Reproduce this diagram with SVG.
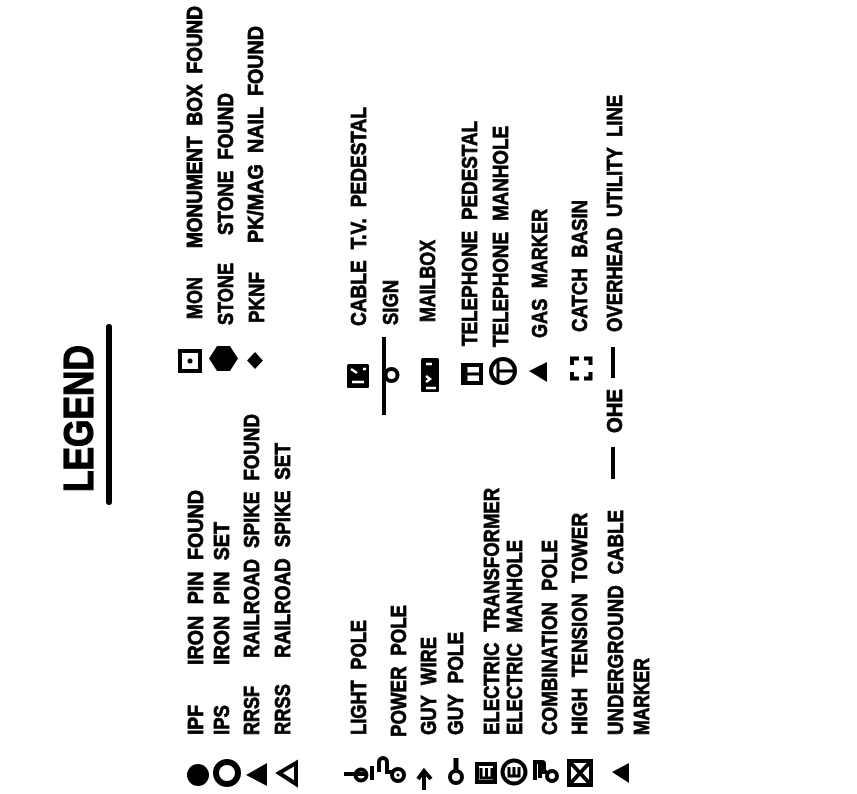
<svg xmlns="http://www.w3.org/2000/svg" width="857" height="794" viewBox="0 0 857 794">
<style>
text{font-family:"Liberation Sans",Arial,sans-serif;font-weight:700;font-size:22px;word-spacing:.3em;fill:#000;stroke:#000;stroke-width:.8px}
.s{fill:none;stroke:#000;stroke-width:4}
.k{fill:#000;stroke:none}
.w{fill:none;stroke:#fff;stroke-width:2.5}
</style>
<defs><filter id="soft" x="0" y="0" width="100%" height="100%"><feGaussianBlur stdDeviation="0.5"/></filter></defs>
<rect width="857" height="794" fill="#fff"/>
<g filter="url(#soft)">
<g id="title">
<text transform="translate(93,492) rotate(-90)" textLength="147" lengthAdjust="spacingAndGlyphs" style="font-size:42px;stroke-width:1.2px">LEGEND</text>
<path d="M109,327V502" fill="none" stroke="#000" stroke-width="6" stroke-linecap="round"/>
</g>
<g id="ipf"><circle class="k" cx="198" cy="775" r="11"/>
<text transform="translate(203,735) rotate(-90)" textLength="30" lengthAdjust="spacingAndGlyphs">IPF</text>
<text transform="translate(203,665) rotate(-90)" textLength="175" lengthAdjust="spacingAndGlyphs">IRON PIN FOUND</text></g>
<g id="ips"><circle class="s" cx="227" cy="773" r="11" style="stroke-width:6"/>
<text transform="translate(229,735) rotate(-90)" textLength="30" lengthAdjust="spacingAndGlyphs">IPS</text>
<text transform="translate(229,665) rotate(-90)" textLength="143" lengthAdjust="spacingAndGlyphs">IRON PIN SET</text></g>
<g id="rrsf"><polygon class="k" points="246,775 267,763 267,786"/>
<text transform="translate(259,735) rotate(-90)" textLength="49" lengthAdjust="spacingAndGlyphs">RRSF</text>
<text transform="translate(259,658) rotate(-90)" textLength="244" lengthAdjust="spacingAndGlyphs">RAILROAD SPIKE FOUND</text></g>
<g id="rrss"><polygon class="s" points="279,773 296,763 296,784"/>
<text transform="translate(290,735) rotate(-90)" textLength="51" lengthAdjust="spacingAndGlyphs">RRSS</text>
<text transform="translate(290,658) rotate(-90)" textLength="215" lengthAdjust="spacingAndGlyphs">RAILROAD SPIKE SET</text></g>
<g id="mon"><rect class="s" x="180" y="351" width="20" height="20"/><circle class="k" cx="190" cy="361" r="2.5"/>
<text transform="translate(202,319) rotate(-90)" textLength="42" lengthAdjust="spacingAndGlyphs">MON</text>
<text transform="translate(202,248) rotate(-90) scale(1,1.16)" textLength="242" lengthAdjust="spacingAndGlyphs" style="font-size:19px">MONUMENT BOX FOUND</text></g>
<g id="stone"><polygon class="k" points="209,358.500 217,346 230,346 238,358.500 230,371 217,371"/>
<text transform="translate(233,325) rotate(-90)" textLength="62" lengthAdjust="spacingAndGlyphs">STONE</text>
<text transform="translate(233,235) rotate(-90)" textLength="142" lengthAdjust="spacingAndGlyphs">STONE FOUND</text></g>
<g id="pknf"><polygon class="k" points="247,360.500 255,352 263,360.500 255,369"/>
<text transform="translate(264,323) rotate(-90)" textLength="51" lengthAdjust="spacingAndGlyphs">PKNF</text>
<text transform="translate(263,243) rotate(-90)" textLength="217" lengthAdjust="spacingAndGlyphs">PK/MAG NAIL FOUND</text></g>
<g id="light-pole"><path class="s" d="M344,774H367M372,766V780"/><circle class="s" cx="361" cy="775" r="5.500"/>
<text transform="translate(366,735) rotate(-90)" textLength="115" lengthAdjust="spacingAndGlyphs">LIGHT POLE</text></g>
<g id="power-pole"><path class="s" d="M379,772V762a4,4 0 0 1 8,0V772H392"/><circle class="s" cx="398" cy="775" r="6"/><circle class="k" cx="398" cy="775" r="1.500"/>
<text transform="translate(406,737) rotate(-90)" textLength="132" lengthAdjust="spacingAndGlyphs">POWER POLE</text></g>
<g id="guy-wire"><path class="s" d="M424,790V771M418,779L424,771L431,779"/>
<text transform="translate(436,735) rotate(-90)" textLength="98" lengthAdjust="spacingAndGlyphs">GUY WIRE</text></g>
<g id="guy-pole"><path class="s" d="M456,758V771" style="stroke-width:5"/><circle class="s" cx="456" cy="777" r="6"/>
<text transform="translate(463,735) rotate(-90)" textLength="103" lengthAdjust="spacingAndGlyphs">GUY POLE</text></g>
<g id="electric-transformer"><rect class="s" x="477" y="764" width="18" height="18"/><path class="s" d="M481,768V778H492V768M486.500,768V778" style="stroke-width:3"/>
<text transform="translate(499,735) rotate(-90)" textLength="247" lengthAdjust="spacingAndGlyphs">ELECTRIC TRANSFORMER</text></g>
<g id="electric-manhole"><circle class="s" cx="514" cy="772" r="11.500"/><path class="s" d="M509,767V776H519V767M514,767V776" style="stroke-width:3"/>
<text transform="translate(522,735) rotate(-90)" textLength="195" lengthAdjust="spacingAndGlyphs">ELECTRIC MANHOLE</text></g>
<g id="combination-pole"><path class="s" d="M535,780V762H542a2,2 0 0 1 2,2V772H547M540,762V778"/><circle class="s" cx="552" cy="776" r="5"/>
<text transform="translate(557,735) rotate(-90)" textLength="195" lengthAdjust="spacingAndGlyphs">COMBINATION POLE</text></g>
<g id="high-tension-tower"><rect class="s" x="569" y="761" width="22" height="24"/><path class="s" d="M569,761L591,785M591,761L569,785"/>
<text transform="translate(587,735) rotate(-90)" textLength="222" lengthAdjust="spacingAndGlyphs">HIGH TENSION TOWER</text></g>
<g id="underground-cable-marker"><polygon class="k" points="612,772 629,763 629,783"/>
<text transform="translate(623,735) rotate(-90)" textLength="225" lengthAdjust="spacingAndGlyphs">UNDERGROUND CABLE</text>
<text transform="translate(649,735) rotate(-90)" textLength="77" lengthAdjust="spacingAndGlyphs">MARKER</text></g>
<g id="cable-tv-pedestal"><rect class="k" x="347" y="364" width="22" height="24" rx="1.500"/><path class="w" d="M351,369L357,373M363,369L366,369M352,382H364"/>
<text transform="translate(366,326) rotate(-90)" textLength="219" lengthAdjust="spacingAndGlyphs">CABLE T.V. PEDESTAL</text></g>
<g id="sign"><path class="s" d="M384,337V415"/><circle class="s" cx="391.500" cy="375" r="6"/>
<text transform="translate(398,325) rotate(-90)" textLength="45" lengthAdjust="spacingAndGlyphs">SIGN</text></g>
<g id="mailbox"><rect class="k" x="421" y="358" width="18" height="34" rx="1.500"/><path class="w" d="M426,364H432M426,376L430,379L426,382M426,388H436"/>
<text transform="translate(435,322) rotate(-90)" textLength="82" lengthAdjust="spacingAndGlyphs">MAILBOX</text></g>
<g id="telephone-pedestal"><rect class="s" x="463" y="365" width="18" height="18"/><path class="s" d="M466,367V381M466,374H480" style="stroke-width:3"/>
<text transform="translate(477,346) rotate(-90)" textLength="225" lengthAdjust="spacingAndGlyphs">TELEPHONE PEDESTAL</text></g>
<g id="telephone-manhole"><circle class="s" cx="503" cy="371" r="12"/><path class="s" d="M498,362V380M498,371H515" style="stroke-width:3"/>
<text transform="translate(508,347) rotate(-90)" textLength="221" lengthAdjust="spacingAndGlyphs">TELEPHONE MANHOLE</text></g>
<g id="gas-marker"><polygon class="k" points="529,371 547,362 547,382"/>
<text transform="translate(547,338) rotate(-90)" textLength="129" lengthAdjust="spacingAndGlyphs">GAS MARKER</text></g>
<g id="catch-basin"><path class="s" d="M572,365V358.500H579M584,358.500H590.500V365M590.500,372V378.500H584M579,378.500H572V372"/>
<text transform="translate(587,332) rotate(-90)" textLength="132" lengthAdjust="spacingAndGlyphs">CATCH BASIN</text></g>
<g id="overhead-utility-line"><path class="s" d="M613,447V479M613,347V378"/>
<text transform="translate(622,433) rotate(-90)" textLength="44" lengthAdjust="spacingAndGlyphs">OHE</text>
<text transform="translate(622,332) rotate(-90)" textLength="237" lengthAdjust="spacingAndGlyphs">OVERHEAD UTILITY LINE</text></g>
</g>
</svg>
